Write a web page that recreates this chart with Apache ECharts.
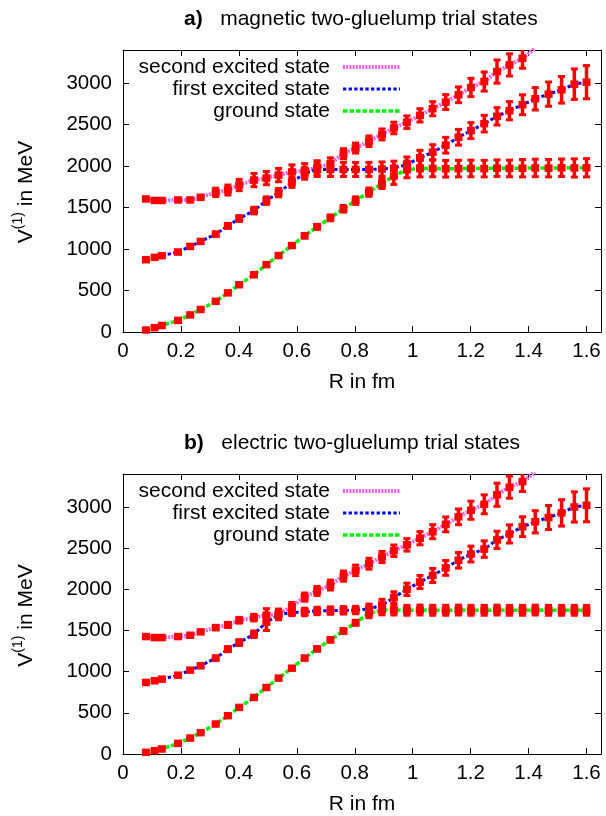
<!DOCTYPE html>
<html>
<head>
<meta charset="utf-8">
<script src="https://cdn.jsdelivr.net/npm/echarts@6/dist/echarts.min.js"></script>
<style>
  html, body { margin: 0; padding: 0; background: #fff; }
  #main { width: 606px; height: 816px; }
</style>
</head>
<body>
<div id="main"></div>
<script>
// R values (fm) shared by all states
const R = [0.079, 0.109, 0.134, 0.19, 0.232, 0.268, 0.32, 0.362, 0.401, 0.452, 0.495, 0.537,
    0.583, 0.627, 0.67, 0.716, 0.761, 0.803, 0.849, 0.894, 0.935, 0.98, 1.025, 1.069,
    1.114, 1.158, 1.201, 1.247, 1.291, 1.334, 1.379, 1.423, 1.469, 1.514, 1.558, 1.6];

// a) magnetic
const groundA = [24, 52, 78, 140, 206, 272, 370, 472, 570, 690, 812, 922,
    1042, 1160, 1268, 1376, 1486, 1584, 1686, 1790, 1880, 1960, 1970, 1972,
    1968, 1970, 1972, 1970, 1975, 1972, 1975, 1978, 1975, 1980, 1978, 1980];
const groundAErr = [6, 6, 8, 8, 10, 10, 12, 12, 14, 14, 16, 18,
    20, 25, 30, 35, 40, 45, 50, 60, 100, 100, 100, 100,
    100, 100, 100, 100, 100, 100, 105, 105, 105, 105, 110, 110];
const firstA = [872, 900, 920, 964, 1032, 1092, 1180, 1280, 1368, 1464, 1584, 1680,
    1804, 1912, 1960, 1960, 1960, 1960, 1960, 1965, 1975, 2020, 2100, 2168,
    2252, 2348, 2428, 2512, 2600, 2668, 2740, 2812, 2868, 2920, 2988, 3012];
const firstAErr = [10, 10, 12, 14, 16, 20, 25, 30, 35, 40, 45, 50,
    60, 70, 85, 85, 85, 85, 85, 85, 85, 90, 90, 90,
    95, 95, 96, 100, 105, 110, 120, 135, 146, 160, 184, 200];
const secondA = [1604, 1586, 1586, 1592, 1592, 1624, 1684, 1712, 1772, 1832, 1856, 1892,
    1930, 1945, 1980, 2030, 2150, 2218, 2300, 2382, 2460, 2530, 2612, 2692,
    2772, 2860, 2948, 3020, 3140, 3220, 3300];
const secondAErr = [10, 10, 10, 12, 14, 20, 50, 60, 68, 80, 80, 80,
    85, 85, 85, 70, 60, 60, 64, 66, 70, 76, 80, 85,
    90, 95, 110, 115, 140, 134, 120];
const secondATail = [3420];   // curve leaves the frame after the last point

// b) electric
const groundB = [20, 40, 61, 129, 194, 259, 364, 465, 566, 687, 808, 921,
    1042, 1165, 1276, 1386, 1494, 1594, 1705, 1750, 1748, 1745, 1748, 1745,
    1745, 1748, 1745, 1745, 1748, 1745, 1745, 1748, 1745, 1745, 1745, 1745];
const groundBErr = [6, 6, 8, 8, 10, 10, 12, 12, 14, 14, 16, 18,
    20, 22, 24, 25, 28, 30, 50, 60, 60, 60, 60, 60,
    60, 60, 60, 60, 60, 60, 60, 60, 60, 60, 60, 60];
const firstB = [869, 889, 909, 957, 1018, 1071, 1164, 1273, 1353, 1454, 1600, 1690,
    1720, 1725, 1737, 1742, 1745, 1748, 1760, 1808, 1900, 2000, 2088, 2168,
    2260, 2352, 2428, 2488, 2600, 2672, 2760, 2820, 2872, 2928, 3000, 3020];
const firstBErr = [10, 10, 12, 14, 16, 20, 25, 30, 35, 40, 100, 60,
    40, 45, 45, 45, 45, 45, 60, 70, 70, 75, 80, 85,
    90, 95, 96, 100, 105, 110, 120, 135, 146, 160, 184, 200];
const secondB = [1426, 1414, 1414, 1426, 1442, 1483, 1535, 1568, 1624, 1656, 1685, 1700,
    1790, 1905, 1980, 2052, 2160, 2230, 2310, 2392, 2468, 2540, 2620, 2700,
    2788, 2880, 2960, 3032, 3148, 3240, 3308];
const secondBErr = [10, 10, 10, 12, 14, 20, 25, 30, 35, 40, 80, 60,
    50, 50, 55, 60, 62, 64, 66, 68, 70, 76, 80, 85,
    90, 95, 110, 115, 140, 134, 120];
const secondBTail = [3420];

const xTicks = { min: 0, max: 1.65, interval: 0.2 };
const yTicks = { min: 0, max: 3400, interval: 500 };

const legendNames = ['second excited state', 'first excited state', 'ground state'];
const FONT = 'Liberation Sans, Arial, Helvetica, sans-serif';

const styles = {
    second: { color: '#f060f0', width: 4, type: [2, 1.2] },
    first: { color: '#0000ff', width: 3, type: [3.3, 2.3] },
    ground: { color: '#00ee00', width: 3.5, type: [4.5, 2] }
};

function pairs(vals, extra) {
    const out = vals.map((v, i) => [R[i], v]);
    if (extra) extra.forEach((v, j) => out.push([R[vals.length + j], v]));
    return out;
}

function triples(vals, errs) {
    return vals.map((v, i) => [R[i], v, errs[i]]);
}

// red error bar with small caps
function renderBar(params, api) {
    const x = api.value(0), y = api.value(1), e = api.value(2);
    const lo = api.coord([x, y - e]);
    const hi = api.coord([x, y + e]);
    const w = 3.5;
    const st = { stroke: '#ff0000', lineWidth: 3.5 };
    const cap = { stroke: '#ff0000', lineWidth: 3 };
    return {
        type: 'group',
        children: [
            { type: 'line', shape: { x1: lo[0], y1: lo[1], x2: hi[0], y2: hi[1] }, style: st },
            { type: 'line', shape: { x1: lo[0] - w, y1: lo[1], x2: lo[0] + w, y2: lo[1] }, style: cap },
            { type: 'line', shape: { x1: hi[0] - w, y1: hi[1], x2: hi[0] + w, y2: hi[1] }, style: cap }
        ]
    };
}

const grids = [];
const xAxes = [];
const yAxes = [];
const series = [];
const graphics = [];

function addPanel(idx, top, height, title, states) {
    grids.push({ left: 123, right: 5, top: top, height: height });
    const axLine = { show: true, onZero: false, lineStyle: { color: '#000', width: 1 } };
    const tick = { show: true, inside: true, length: 6, lineStyle: { color: '#000' } };
    const lbl = { fontSize: 20.5, color: '#000', fontFamily: FONT, showMaxLabel: false, formatter: v => String(v) };
    xAxes.push({
        type: 'value', gridIndex: idx, position: 'bottom', ...xTicks,
        axisLine: axLine, axisTick: tick, splitLine: { show: false },
        axisLabel: { ...lbl, margin: 9 },
        name: 'R in fm', nameLocation: 'middle', nameGap: 40,
        nameTextStyle: { fontSize: 21, color: '#000', fontFamily: FONT }
    });
    xAxes.push({
        type: 'value', gridIndex: idx, position: 'top', ...xTicks,
        axisLine: axLine, axisTick: tick, splitLine: { show: false }, axisLabel: { show: false }
    });
    yAxes.push({
        type: 'value', gridIndex: idx, position: 'left', ...yTicks,
        axisLine: axLine, axisTick: tick, splitLine: { show: false },
        axisLabel: { ...lbl, margin: 11 }
    });
    yAxes.push({
        type: 'value', gridIndex: idx, position: 'right', ...yTicks,
        axisLine: axLine, axisTick: tick, splitLine: { show: false }, axisLabel: { show: false }
    });
    const xi = idx * 2, yi = idx * 2;

    states.forEach(s => {
        series.push({
            type: 'custom', xAxisIndex: xi, yAxisIndex: yi, clip: true, z: 2,
            renderItem: renderBar, data: triples(s.vals, s.errs), encode: { x: 0, y: 1 }
        });
        series.push({
            type: 'scatter', xAxisIndex: xi, yAxisIndex: yi, z: 5,
            symbol: 'rect', symbolSize: [8, 7.5], itemStyle: { color: '#ff0000', opacity: 1 },
            data: pairs(s.vals)
        });
    });
    states.forEach(s => {
        series.push({
            type: 'line', xAxisIndex: xi, yAxisIndex: yi, z: 4,
            showSymbol: false, symbol: 'none', silent: true,
            lineStyle: styles[s.key], data: pairs(s.vals, s.tail)
        });
    });

    // title
    graphics.push({
        type: 'text', left: 184, top: top - 41,
        style: {
            text: '{b|' + title[0] + '}   ' + title[1],
            font: '21px ' + FONT, fill: '#000',
            rich: { b: { fontWeight: 'bold', fontSize: 21, fontFamily: FONT } }
        }
    });
    // y label
    graphics.push({
        type: 'text', x: 24, y: top + height / 2 + 1, rotation: Math.PI / 2,
        style: {
            text: '{n|V}{s|(1)}{n| in MeV}',
            align: 'center', verticalAlign: 'middle', fill: '#000',
            rich: {
                n: { fontSize: 21, fontFamily: FONT, lineHeight: 26, verticalAlign: 'bottom' },
                s: { fontSize: 14, fontFamily: FONT, lineHeight: 26, verticalAlign: 'top' }
            }
        }
    });
    // key
    const keys = ['second', 'first', 'ground'];
    keys.forEach((k, j) => {
        const yy = top + 17 + j * 22;
        graphics.push({
            type: 'text', x: 330, y: yy,
            style: { text: legendNames[j], font: '21px ' + FONT, fill: '#000', align: 'right', verticalAlign: 'middle' }
        });
        graphics.push({
            type: 'line', shape: { x1: 343, y1: yy, x2: 400, y2: yy },
            style: { stroke: styles[k].color, lineWidth: styles[k].width, lineDash: styles[k].type }
        });
    });
}

addPanel(0, 50, 282, ['a)', 'magnetic two-gluelump trial states'], [
    { key: 'second', vals: secondA, errs: secondAErr, tail: secondATail },
    { key: 'first', vals: firstA, errs: firstAErr },
    { key: 'ground', vals: groundA, errs: groundAErr }
]);
addPanel(1, 474, 281, ['b)', 'electric two-gluelump trial states'], [
    { key: 'second', vals: secondB, errs: secondBErr, tail: secondBTail },
    { key: 'first', vals: firstB, errs: firstBErr },
    { key: 'ground', vals: groundB, errs: groundBErr }
]);

const chart = echarts.init(document.getElementById('main'), null, { renderer: 'canvas' });
chart.setOption({
    animation: false,
    backgroundColor: '#fff',
    grid: grids,
    xAxis: xAxes,
    yAxis: yAxes,
    series: series,
    graphic: graphics
});
</script>
</body>
</html>
